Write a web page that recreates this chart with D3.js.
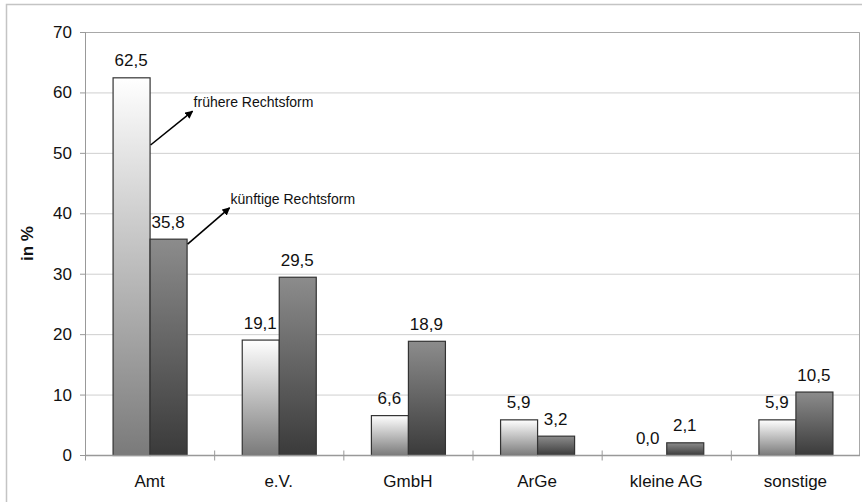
<!DOCTYPE html>
<html lang="de">
<head>
<meta charset="utf-8">
<title>Rechtsform</title>
<script src="https://d3js.org/d3.v7.min.js"></script>
<style>
  body { margin: 0; background: #fff; }
  svg text { font-family: "Liberation Sans", Arial, sans-serif; fill: #111; }
</style>
</head>
<body>
<script>
// data
const categories = ["Amt", "e.V.", "GmbH", "ArGe", "kleine AG", "sonstige"];
const frueher = [62.5, 19.1, 6.6, 5.9, 0.0, 5.9];
const kuenftig = [35.8, 29.5, 18.9, 3.2, 2.1, 10.5];
const seriesNames = ["frühere Rechtsform", "künftige Rechtsform"];
const yTicks = [0, 10, 20, 30, 40, 50, 60, 70];

const width = 862, height = 502;
const margin = { top: 32, right: 2, bottom: 47, left: 85 };

const svg = d3.select("body").append("svg")
    .attr("width", width)
    .attr("height", height);

// outer chart frame
svg.append("rect")
    .attr("x", 6.5).attr("y", 4.5)
    .attr("width", width).attr("height", height)
    .attr("fill", "none")
    .attr("stroke", "#c4c4c4")
    .attr("stroke-width", 1.5);

const x0 = d3.scaleBand()
    .domain(categories)
    .range([margin.left, width - margin.right])
    .padding(0);

const groupW = x0.bandwidth() * 0.573;
const x1 = d3.scaleBand()
    .domain([0, 1])
    .range([0, groupW]);

const y = d3.scaleLinear()
    .domain([0, 70])
    .range([height - margin.bottom, margin.top]);

const fmt = v => d3.format(".1f")(v).replace(".", ",");

// gradients
const defs = svg.append("defs");
const gradStops = [["#ffffff", "#7a7a7a"], ["#8c8c8c", "#3a3a3a"]];
gradStops.forEach((s, i) => {
  const g = defs.append("linearGradient")
      .attr("id", "grad" + i)
      .attr("x1", 0).attr("y1", 0).attr("x2", 0).attr("y2", 1);
  g.append("stop").attr("offset", "0%").attr("stop-color", s[0]);
  g.append("stop").attr("offset", "100%").attr("stop-color", s[1]);
});
const marker = defs.append("marker")
    .attr("id", "arrow")
    .attr("viewBox", "0 0 10 10")
    .attr("refX", 9).attr("refY", 5)
    .attr("markerWidth", 5).attr("markerHeight", 5)
    .attr("orient", "auto");
marker.append("path").attr("d", "M0,0L10,5L0,10z").attr("fill", "#000");

// gridlines
svg.append("g")
  .selectAll("line")
  .data(yTicks.filter(d => d > 0))
  .join("line")
    .attr("x1", margin.left).attr("x2", width - margin.right)
    .attr("y1", d => y(d) + 0.5).attr("y2", d => y(d) + 0.5)
    .attr("stroke", "#cfcfcf");

// plot frame (top + right)
svg.append("path")
    .attr("d", `M${margin.left},${y(70) + 0.5}H${width - margin.right - 0.5}V${y(0)}`)
    .attr("fill", "none")
    .attr("stroke", "#a8a8a8");

// y axis
const yAxis = svg.append("g")
    .attr("transform", `translate(${margin.left},0)`)
    .call(d3.axisLeft(y).tickValues(yTicks).tickSize(5).tickPadding(8).tickFormat(d3.format("d")));
yAxis.select(".domain").attr("stroke", "#999");
yAxis.selectAll(".tick line").attr("stroke", "#999");
yAxis.selectAll("text")
    .attr("font-size", 17)
    .attr("fill", "#111")
    .attr("font-family", "Liberation Sans, Arial, sans-serif");

svg.append("text")
    .attr("transform", `translate(33,${(y(0) + y(70)) / 2}) rotate(-90)`)
    .attr("text-anchor", "middle")
    .attr("font-size", 17)
    .attr("font-weight", "bold")
    .text("in %");

// bars
const rows = categories.map((c, i) => ({ cat: c, vals: [frueher[i], kuenftig[i]] }));
const groups = svg.append("g")
  .selectAll("g")
  .data(rows)
  .join("g")
    .attr("transform", d => `translate(${x0(d.cat) + (x0.bandwidth() - groupW) / 2},0)`);

groups.selectAll("rect")
  .data(d => d.vals.map((v, k) => ({ v, k })))
  .join("rect")
    .filter(d => d.v > 0)
    .attr("x", d => x1(d.k) + 0.5)
    .attr("y", d => y(d.v) + 0.5)
    .attr("width", x1.bandwidth())
    .attr("height", d => y(0) - y(d.v))
    .attr("fill", d => `url(#grad${d.k})`)
    .attr("stroke", "#333")
    .attr("stroke-width", 1.2);

groups.selectAll("text.val")
  .data(d => d.vals.map((v, k) => ({ v, k })))
  .join("text")
    .attr("class", "val")
    .attr("x", d => x1(d.k) + x1.bandwidth() / 2)
    .attr("y", d => y(d.v) - 11)
    .attr("text-anchor", "middle")
    .attr("font-size", 17)
    .text(d => fmt(d.v));

// x axis
const xAxisY = y(0) + 0.5;
svg.append("line")
    .attr("x1", margin.left).attr("x2", width - margin.right)
    .attr("y1", xAxisY).attr("y2", xAxisY)
    .attr("stroke", "#999").attr("stroke-width", 1.5);
svg.append("g")
  .selectAll("line")
  .data(categories)
  .join("line")
    .attr("x1", d => x0(d) + 0.5).attr("x2", d => x0(d) + 0.5)
    .attr("y1", xAxisY - 5).attr("y2", xAxisY + 5)
    .attr("stroke", "#999");
svg.append("g")
  .selectAll("text")
  .data(categories)
  .join("text")
    .attr("x", d => x0(d) + x0.bandwidth() / 2)
    .attr("y", y(0) + 32)
    .attr("text-anchor", "middle")
    .attr("font-size", 17)
    .text(d => d);

// series annotations with arrows, anchored to the Amt bars
const amtX = x0("Amt") + (x0.bandwidth() - groupW) / 2;
const notes = [
  { k: 0, from: 51.3, to: 56.9 },
  { k: 1, from: 34.9, to: 40.9 }
];
notes.forEach(n => {
  const sx = amtX + x1(n.k) + x1.bandwidth() + 1;
  const sy = y(n.from);
  const ex = sx + 42;
  const ey = y(n.to);
  svg.append("line")
      .attr("x1", sx).attr("y1", sy)
      .attr("x2", ex).attr("y2", ey)
      .attr("stroke", "#000")
      .attr("stroke-width", 1.6)
      .attr("marker-end", "url(#arrow)");
  svg.append("text")
      .attr("x", ex + 1)
      .attr("y", ey - 4)
      .attr("font-size", 14)
      .text(seriesNames[n.k]);
});
</script>
</body>
</html>
